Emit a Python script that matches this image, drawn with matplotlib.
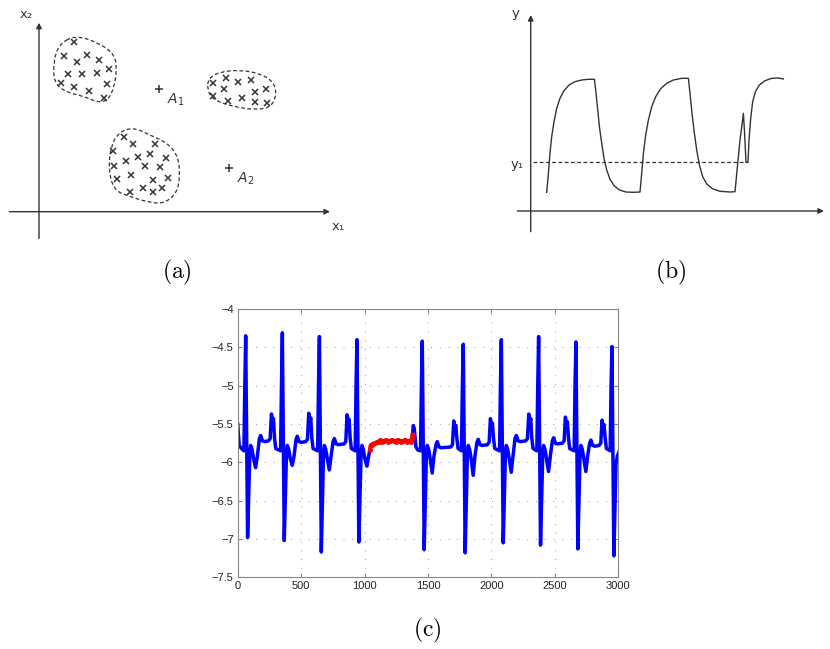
import matplotlib
matplotlib.use("Agg")
import matplotlib.pyplot as plt
import numpy as np
from matplotlib.path import Path
from matplotlib.patches import PathPatch
from matplotlib.ticker import FuncFormatter

W, H = 830, 649

# ---- panel (a): clusters, coords in px relative to the axis crossing ----
clu1_x = [35, 25.3, 38.3, 48.3, 60, 29.3, 42.7, 57.7, 70, 21.7, 35, 50.3, 68.3, 65.3]
clu1_y = [170, 155.7, 150, 156.7, 151.7, 137.7, 137.7, 138.3, 142.3, 128.3, 124.3, 120.7, 127.7, 113.3]
blob1 = [(36, 176.7), (61, 168.3), (76, 156.7), (77.7, 141.7), (75.3, 125), (69.3, 111.7),
         (59.3, 109), (46, 115), (26, 120), (15.3, 129), (14.3, 148.3), (19.3, 166.7)]

clu2_x = [174.3, 187, 199.3, 211.7, 185, 216, 226.7, 173.7, 189.3, 202.7, 216, 228.3]
clu2_y = [129, 133.3, 129.3, 131.7, 122.7, 119.3, 122.7, 116, 111, 113.3, 109.3, 109]
blob2 = [(169.3, 133.3), (181, 140), (201, 141.7), (221, 138.3), (234.3, 130), (237.7, 118.3),
         (232.7, 105), (217.7, 101.7), (194.3, 105), (174.3, 111.7), (168.3, 121.7)]

clu3_x = [85.3, 94.3, 116, 74.3, 87, 99.3, 111, 126.7, 75.3, 106, 121, 78.3, 91.7, 114.3,
          128.7, 91, 103.7, 114.3, 123.3]
clu3_y = [75, 67.7, 67.7, 61, 51, 55, 57.3, 54, 46, 46, 44.3, 32.7, 36.7, 31.7, 33.3, 20,
          23.3, 19.3, 24]
blob3 = [(94.3, 84.3), (111, 76.7), (129.3, 68.3), (139.3, 55), (141, 35), (137.7, 18.3),
         (124.3, 7.7), (107.7, 10), (91, 15), (74.3, 21.7), (69.3, 45), (72.7, 68.3), (81, 80)]

centres = {"$A_1$": (120, 122.3), "$A_2$": (190.3, 43.3)}

# ---- panel (b): response curve, px relative to the axis crossing ----
resp_x = [16.0, 17.7, 19.3, 21.0, 23.3, 26.0, 29.3, 33.3, 38.3, 44.3, 51.0, 57.7, 63.7,
          65.0, 66.7, 68.7, 71.0, 73.3, 76.0, 79.3, 83.7, 88.7, 95.3, 102.7, 109.3,
          111.0, 112.7, 115.0, 117.7, 121.0, 125.0, 130.0, 136.0, 142.7, 151.0, 157.7,
          159.3, 161.3, 163.7, 166.0, 168.7, 172.0, 176.0, 181.7, 189.3, 199.3, 204.3,
          206.7, 209.3, 211.7, 212.7, 213.7, 214.7, 215.3, 217.3,
          218.3, 220.0, 222.0, 224.7, 228.7, 234.3, 241.0, 247.7, 252.7]
resp_y = [18.7, 37.7, 57.7, 74.3, 89.3, 102.7, 112.7, 120.3, 126.0, 129.3, 131.0, 131.7, 131.7,
          121.0, 104.3, 84.3, 67.7, 52.7, 41.0, 31.7, 25.0, 21.0, 19.0, 18.7, 19.0,
          37.7, 57.7, 76.0, 91.0, 104.3, 114.3, 122.3, 127.7, 131.0, 132.7, 132.7,
          117.7, 97.7, 77.7, 61.0, 46.0, 34.3, 27.0, 22.3, 19.7, 19.0, 19.3,
          44.3, 71.0, 89.3, 97.7, 81.0, 61.0, 48.7, 48.7,
          71.0, 92.7, 109.3, 119.3, 126.0, 130.3, 132.7, 133.0, 132.0]
y1_level = 48.7

# ---- panel (c): ECG-like signal ----
r_pos = [63, 352, 644, 940, 1455, 1778, 2078, 2372, 2666, 2950]
r_peak = [-4.35, -4.31, -4.36, -4.40, -4.42, -4.46, -4.40, -4.36, -4.43, -4.49]
s_trough = [-6.98, -7.02, -7.17, -7.04, -7.14, -7.18, -7.05, -7.08, -7.13, -7.22]
dip = [-6.07, -6.04, -6.10, -6.05, -6.14, -6.17, -6.13, -6.12, -6.12, None]
plateau = [-5.72, -5.73, -5.76, None, -5.80, -5.77, -5.72, -5.75, -5.78, None]
t_pos = [276, 570, 872, None, 1713, 2002, 2304, 2593, 2882, None]
t_peak = [-5.47, -5.46, -5.48, None, -5.56, -5.53, -5.47, -5.51, -5.55, None]

red_x = [1043, 1048, 1055, 1065, 1080, 1095, 1110, 1125, 1140, 1155, 1170, 1185, 1200, 1215,
         1230, 1245, 1260, 1275, 1290, 1305, 1320, 1335, 1350, 1365, 1372, 1378]
red_y = [-5.84, -5.78, -5.77, -5.76, -5.75, -5.74, -5.73, -5.71, -5.73, -5.72, -5.71, -5.73,
         -5.72, -5.71, -5.72, -5.73, -5.71, -5.72, -5.73, -5.72, -5.71, -5.73, -5.72, -5.73,
         -5.70, -5.64]

x_ticks = [0, 500, 1000, 1500, 2000, 2500, 3000]
y_ticks = [-7.5, -7, -6.5, -6, -5.5, -5, -4.5, -4]


def blob_path(pts):
    # closed smooth outline: read points act as quadratic control points
    p = np.array(pts)
    mids = (p + np.roll(p, -1, axis=0)) / 2
    verts = [mids[-1]]
    codes = [Path.MOVETO]
    for i in range(len(p)):
        verts += [p[i], mids[i]]
        codes += [Path.CURVE3, Path.CURVE3]
    return Path(verts, codes)


def build_signal():
    bx, by = [0, 5, 12, 30], [-5.5, -5.62, -5.78, -5.82]
    ax2, ay2 = [1378, 1384, 1392, 1405, 1420], [-5.64, -5.52, -5.56, -5.8, -5.84]
    for i, r in enumerate(r_pos):
        xs, ys = (bx, by) if r < 1043 else (ax2, ay2)
        xs += [r - 14, r - 7, r, r + 15]
        ys += [-5.85, -5.0, r_peak[i], s_trough[i]]
        if dip[i] is None:
            xs += [r + 32, r + 42, r + 54]
            ys += [-6.02, -5.92, -5.87]
            continue
        xs += [r + 33, r + 39, r + 50, r + 62, r + 78, r + 92]
        ys += [-5.86, -5.78, -5.83, -5.95, dip[i], -5.92]
        if t_pos[i] is None:
            xs += [r + 100]
            ys += [-5.85]
            continue
        pl, t, tp = plateau[i], t_pos[i], t_peak[i]
        xs += [r + 108, r + 118, r + 132, r + 150, t - 34, t - 20, t - 10, t, t + 6,
               t + 14, t + 24]
        ys += [pl + 0.03, pl + 0.07, pl, pl - 0.01, pl, pl + 0.03, tp + 0.1, tp,
               tp + 0.04, -5.68, -5.82]
    return bx, by, ax2, ay2


fig = plt.figure(figsize=(W / 100, H / 100), dpi=100)
ink = "#333333"

# panel (a)
ax_a = fig.add_axes([0, (H - 250) / H, 350 / W, 250 / H])
ax_a.set_xlim(-39, 311)
ax_a.set_ylim(-38.3, 211.7)
ax_a.set_axis_off()
arrow = dict(arrowstyle="-|>", lw=1.0, color=ink, mutation_scale=8, shrinkA=0, shrinkB=0)
ax_a.annotate("", xy=(0, 189), xytext=(0, -26.7), arrowprops=arrow)
ax_a.annotate("", xy=(291, 0), xytext=(-29.7, 0), arrowprops=arrow)
for pts, cx, cy in [(blob1, clu1_x, clu1_y), (blob2, clu2_x, clu2_y), (blob3, clu3_x, clu3_y)]:
    ax_a.add_patch(PathPatch(blob_path(pts), fill=False, ec=ink, lw=0.9, ls=(0, (3, 2))))
    ax_a.plot(cx, cy, "x", color=ink, ms=5, mew=1.1)
for lab, (px, py) in centres.items():
    ax_a.plot(px, py, "+", color=ink, ms=6, mew=1.1)
    ax_a.text(px + 8, py - 2, lab, fontsize=10, color=ink, va="top", ha="left")
ax_a.text(-12.3, 196.7, "x\u2082", fontsize=9.5, color=ink, ha="center", va="center")
ax_a.text(299.3, -15, "x\u2081", fontsize=9.5, color=ink, ha="center", va="center")

# panel (b)
ax_b = fig.add_axes([500 / W, (H - 250) / H, 330 / W, 250 / H])
ax_b.set_xlim(-30.7, 299.3)
ax_b.set_ylim(-39, 211)
ax_b.set_axis_off()
ax_b.annotate("", xy=(0, 196), xytext=(0, -20.7), arrowprops=arrow)
ax_b.annotate("", xy=(293.3, 0), xytext=(-13.3, 0), arrowprops=arrow)
ax_b.plot(resp_x, resp_y, color=ink, lw=1.0)
ax_b.plot([2.7, 216], [y1_level, y1_level], color=ink, lw=0.9, ls=(0, (3, 2)))
ax_b.text(-14.7, 197, "y", fontsize=9.5, color=ink, ha="center", va="center")
ax_b.text(-14, 46.7, "y\u2081", fontsize=9.5, color=ink, ha="center", va="center")

# panel (c)
ax_c = fig.add_axes([237.7 / W, (H - 577.3) / H, 380.6 / W, 268.3 / H])
bx, by, ax2, ay2 = build_signal()
ax_c.plot(bx, by, color="#0000ff", lw=2.5, solid_joinstyle="round")
ax_c.plot(ax2, ay2, color="#0000ff", lw=2.5, solid_joinstyle="round")
ax_c.plot(red_x, red_y, color="#ff0000", lw=3.0, marker=".", ms=5)
ax_c.set_xlim(0, 3000)
ax_c.set_ylim(-7.5, -4)
ax_c.set_xticks(x_ticks)
ax_c.set_yticks(y_ticks)
fmt = FuncFormatter(lambda v, _: f"{v:g}".replace("-", "\u2212"))
ax_c.xaxis.set_major_formatter(fmt)
ax_c.yaxis.set_major_formatter(fmt)
ax_c.grid(True, color="#999999", ls=(0, (1, 8)), lw=0.7)
for s in ax_c.spines.values():
    s.set_color("#888888")
    s.set_linewidth(0.8)
ax_c.tick_params(direction="in", length=3, color="#888888", top=True, right=True,
                 labelsize=8, labelcolor="#222222", pad=3)
for lab in ax_c.get_xticklabels() + ax_c.get_yticklabels():
    lab.set_fontfamily("Liberation Sans")

# captions
for cx, cy, s in [(177, 272.5, "(a)"), (671, 272.5, "(b)"), (427, 630, "(c)")]:
    fig.text(cx / W, 1 - cy / H, r"$\mathrm{" + s + "}$", math_fontfamily="cm",
             fontsize=17, ha="center", va="center")

fig.savefig("out.png", dpi=100)
